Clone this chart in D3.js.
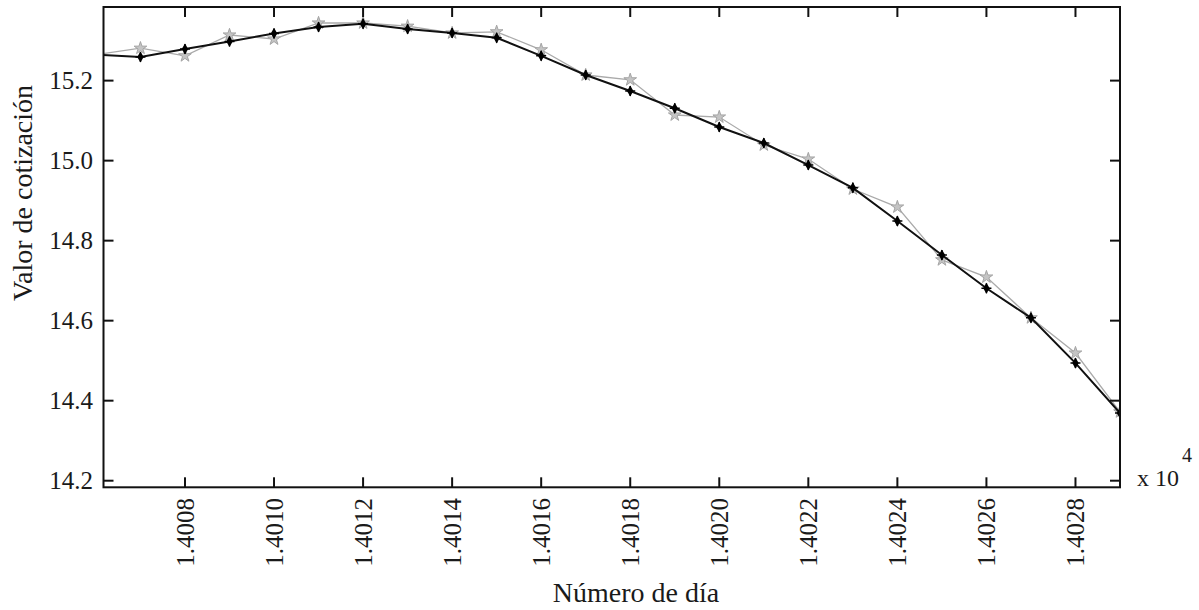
<!DOCTYPE html>
<html>
<head>
<meta charset="utf-8">
<script src="https://cdn.jsdelivr.net/npm/d3@7"></script>
<style>
  body { margin: 0; background: #fff; }
  svg { display: block; }
  text { font-family: "Liberation Serif", "Times New Roman", serif; fill: #1a1a1a; }
</style>
</head>
<body>
<svg width="1199" height="610"></svg>
<script>
(function (d3) {
  'use strict';

  // data (day number, closing value)
  var days = [14006, 14007, 14008, 14009, 14010, 14011, 14012, 14013, 14014, 14015, 14016, 14017,
              14018, 14019, 14020, 14021, 14022, 14023, 14024, 14025, 14026, 14027, 14028, 14029];
  var realValues = [15.265, 15.259, 15.279, 15.298, 15.318, 15.334, 15.342, 15.329, 15.319, 15.307, 15.262, 15.214,
                    15.174, 15.131, 15.084, 15.044, 14.989, 14.932, 14.849, 14.764, 14.681, 14.607, 14.494, 14.369];
  var predValues = [15.265, 15.281, 15.262, 15.314, 15.304, 15.344, 15.344, 15.336, 15.319, 15.322, 15.277, 15.214,
                    15.202, 15.114, 15.109, 15.039, 15.004, 14.929, 14.884, 14.752, 14.709, 14.607, 14.519, 14.372];
  var xTicks = [14008, 14010, 14012, 14014, 14016, 14018, 14020, 14022, 14024, 14026, 14028];
  var yTicks = [14.2, 14.4, 14.6, 14.8, 15.0, 15.2];

  var svg = d3.select('svg');
  var left = 103.5, right = 1120, top = 7, bottom = 487.3;
  var tickLen = 10;

  var x = d3.scaleLinear().domain([14006.17, 14029]).range([left, right]);
  var y = d3.scaleLinear().domain([14.1835, 15.384]).range([bottom, top]);

  svg.append('clipPath').attr('id', 'clip')
    .append('rect')
      .attr('x', left).attr('y', top)
      .attr('width', right - left).attr('height', bottom - top);

  var plot = svg.append('g').attr('clip-path', 'url(#clip)');

  var line = d3.line()
      .x(function (d) { return x(d[0]); })
      .y(function (d) { return y(d[1]); });

  var predPts = days.map(function (d, i) { return [d, predValues[i]]; });
  var realPts = days.map(function (d, i) { return [d, realValues[i]]; });

  // gray series (below)
  plot.append('path')
      .datum(predPts)
      .attr('d', line)
      .attr('fill', 'none')
      .attr('stroke', '#aaa')
      .attr('stroke-width', 1.3);

  plot.append('g').selectAll('path')
      .data(predPts)
      .enter()
      .append('path')
      .attr('transform', function (d) { return 'translate(' + x(d[0]) + ',' + y(d[1]) + ')'; })
      .attr('d', d3.symbol().type(d3.symbolStar).size(50))
      .attr('fill', '#c4c4c4')
      .attr('stroke', '#a4a4a4')
      .attr('stroke-width', 1);

  // black series
  plot.append('path')
      .datum(realPts)
      .attr('d', line)
      .attr('fill', 'none')
      .attr('stroke', '#111')
      .attr('stroke-width', 2);

  var marks = plot.append('g').selectAll('g')
      .data(realPts)
      .enter()
      .append('g')
      .attr('transform', function (d) { return 'translate(' + x(d[0]) + ',' + y(d[1]) + ')'; });
  marks.append('path')
      .attr('d', d3.symbol().type(d3.symbolDiamond).size(36))
      .attr('fill', '#000');
  marks.append('path')
      .attr('d', 'M-5,0H5M0,-5V5')
      .attr('stroke', '#000')
      .attr('stroke-width', 1.5);

  // frame
  svg.append('rect')
      .attr('x', left).attr('y', top)
      .attr('width', right - left).attr('height', bottom - top)
      .attr('fill', 'none')
      .attr('stroke', '#111')
      .attr('stroke-width', 2);

  // ticks inside on all four sides
  var ticks = svg.append('g').attr('stroke', '#111').attr('stroke-width', 2);
  xTicks.forEach(function (t) {
    ticks.append('line').attr('x1', x(t)).attr('x2', x(t)).attr('y1', bottom).attr('y2', bottom - tickLen);
    ticks.append('line').attr('x1', x(t)).attr('x2', x(t)).attr('y1', top).attr('y2', top + tickLen);
  });
  yTicks.forEach(function (t) {
    ticks.append('line').attr('x1', left).attr('x2', left + tickLen).attr('y1', y(t)).attr('y2', y(t));
    ticks.append('line').attr('x1', right).attr('x2', right - tickLen).attr('y1', y(t)).attr('y2', y(t));
  });

  // tick labels
  svg.append('g').selectAll('text')
      .data(yTicks)
      .enter()
      .append('text')
      .attr('x', 93)
      .attr('y', function (d) { return y(d); })
      .attr('dy', '0.35em')
      .attr('text-anchor', 'end')
      .style('font-size', '25px')
      .text(function (d) { return d3.format('.1f')(d); });

  svg.append('g').selectAll('text')
      .data(xTicks)
      .enter()
      .append('text')
      .attr('transform', function (d) { return 'translate(' + x(d) + ',498) rotate(-90)'; })
      .attr('dy', '0.35em')
      .attr('text-anchor', 'end')
      .style('font-size', '25px')
      .text(function (d) { return d3.format('.4f')(d / 10000); });

  // exponent note
  var expo = svg.append('text')
      .attr('x', 1137)
      .attr('y', 486)
      .style('font-size', '24px');
  expo.append('tspan').text('x 10');
  expo.append('tspan').attr('dx', 3).attr('dy', -24).style('font-size', '20px').text('4');

  // axis titles
  svg.append('text')
      .attr('x', 636)
      .attr('y', 602)
      .attr('text-anchor', 'middle')
      .style('font-size', '28px')
      .text('Número de día');

  svg.append('text')
      .attr('transform', 'translate(32,193) rotate(-90)')
      .attr('text-anchor', 'middle')
      .style('font-size', '28px')
      .text('Valor de cotización');

}(d3));
</script>
</body>
</html>
